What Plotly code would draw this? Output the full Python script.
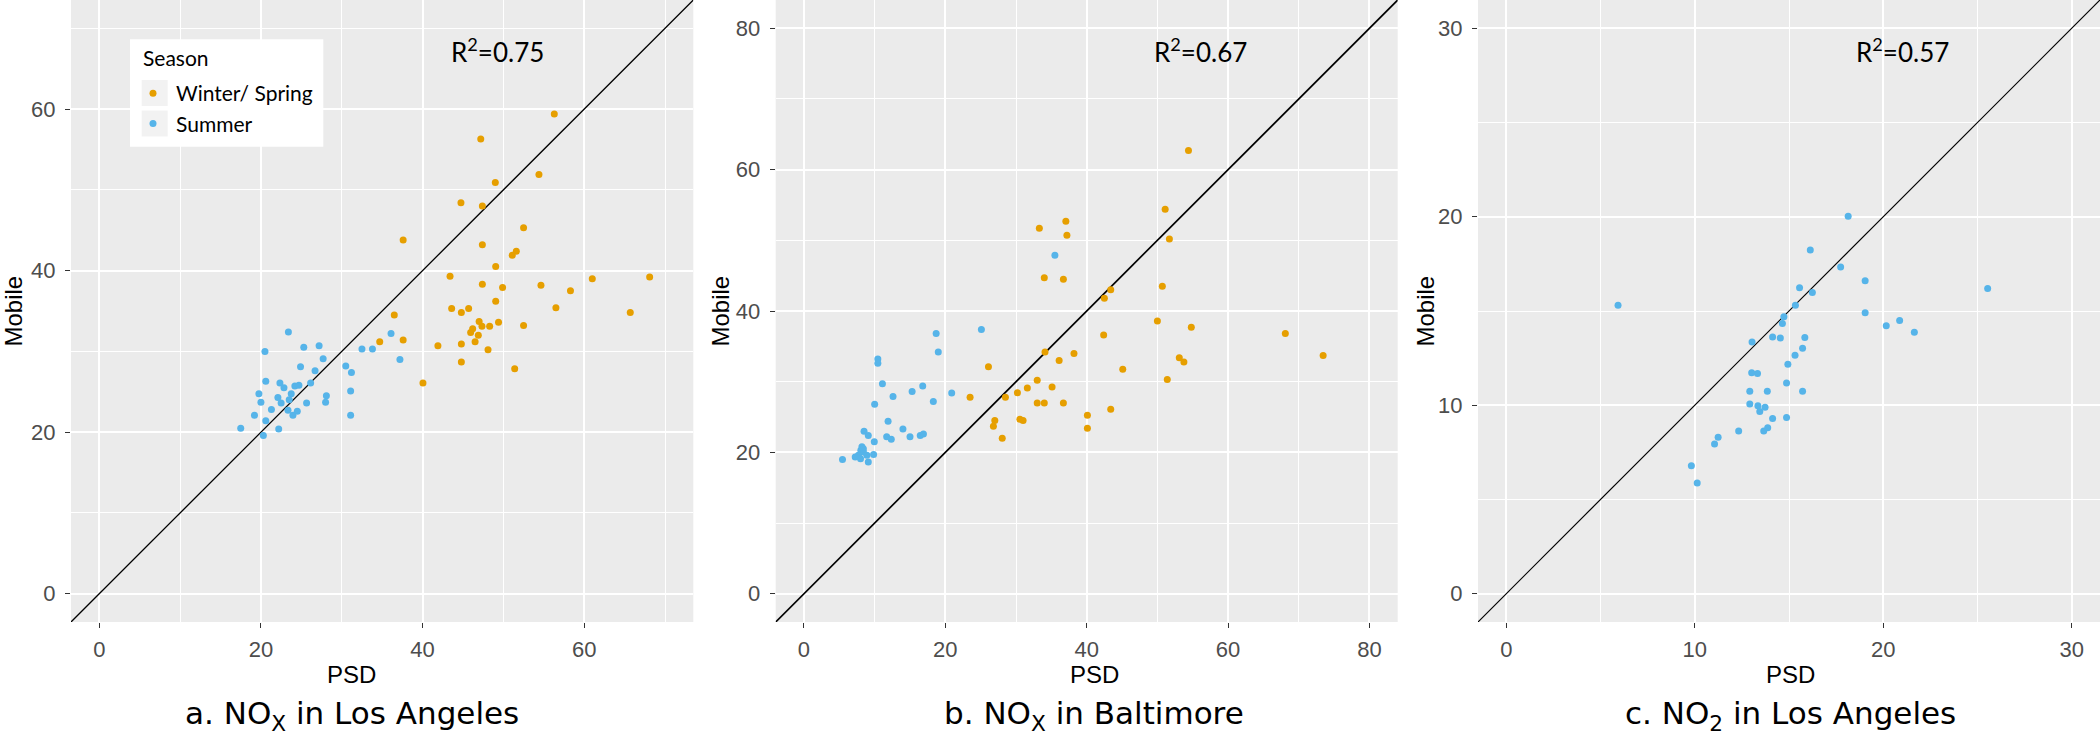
import plotly.graph_objects as go

# ---------------- data ----------------
SEASONS = ["Winter/ Spring", "Summer"]
COLORS = {"Winter/ Spring": "#E69F00", "Summer": "#56B4E9"}
LEGEND_TITLE = "Season"

# Panel a: NOx in Los Angeles
LA_NOX_WINTER_PSD = [56.3, 47.2, 54.4, 49.0, 44.75, 47.4, 52.5, 37.6, 47.4, 51.6, 51.1, 49.05,
                     43.4, 61.0, 68.1, 47.4, 54.65, 49.9, 58.3, 49.05, 56.5, 43.6, 45.7, 44.8,
                     65.7, 36.5, 47.0, 49.4, 46.2, 47.35, 48.3, 52.5, 45.95, 46.9, 37.6, 34.7,
                     41.9, 44.8, 46.5, 48.1, 44.8, 51.4, 40.05]
LA_NOX_WINTER_MOBILE = [59.4, 56.3, 51.9, 50.9, 48.4, 48.0, 45.3, 43.8, 43.2, 42.4, 41.9, 40.5,
                        39.3, 39.0, 39.2, 38.3, 38.2, 37.9, 37.5, 36.2, 35.4, 35.3, 35.3, 34.8,
                        34.8, 34.5, 33.7, 33.6, 32.8, 33.1, 33.1, 33.2, 32.35, 32.0, 31.4, 31.2,
                        30.7, 30.9, 31.2, 30.2, 28.7, 27.85, 26.1]
LA_NOX_SUMMER_PSD = [23.4, 20.5, 25.3, 27.2, 27.7, 24.9, 26.7, 30.5, 31.2, 32.5, 33.8, 36.1,
                     37.2, 20.6, 22.35, 22.85, 24.2, 24.7, 26.15, 19.75, 23.75, 28.1, 31.1, 20.0,
                     22.1, 22.5, 23.5, 25.65, 28.0, 21.3, 23.35, 24.5, 19.2, 31.1, 23.96, 20.6,
                     17.5, 20.3, 22.2]
LA_NOX_SUMMER_MOBILE = [32.4, 30.0, 30.5, 30.7, 29.1, 28.1, 27.6, 28.2, 27.4, 30.3, 30.3, 32.2,
                        29.0, 26.3, 26.1, 25.5, 25.7, 25.8, 26.1, 24.75, 24.75, 24.5, 25.1, 23.7,
                        24.3, 23.6, 24.0, 23.6, 23.7, 22.8, 22.7, 22.6, 22.1, 22.1, 22.1, 21.4,
                        20.5, 19.6, 20.4]

# Panel b: NOx in Baltimore
BAL_NOX_WINTER_PSD = [54.4, 51.1, 51.7, 37.05, 33.3, 37.2, 34.0, 36.7, 50.7, 43.4, 42.5, 50.0,
                      54.8, 68.1, 42.4, 73.45, 34.1, 38.2, 36.1, 45.1, 53.1, 53.75, 51.4, 33.0,
                      35.1, 31.6, 30.2, 28.5, 23.5, 26.1, 33.0, 34.0, 36.7, 40.1, 40.1, 43.4,
                      27.0, 26.8, 30.55, 31.0, 28.05]
BAL_NOX_WINTER_MOBILE = [62.7, 54.4, 50.2, 52.7, 51.7, 50.7, 44.7, 44.5, 43.5, 43.0, 41.8, 38.6,
                         37.7, 36.8, 36.6, 33.7, 34.2, 34.0, 33.0, 31.75, 33.4, 32.8, 30.3, 30.2,
                         29.25, 29.1, 28.45, 27.8, 27.8, 32.1, 27.0, 27.0, 27.0, 25.25, 23.4, 26.1,
                         24.5, 23.7, 24.7, 24.5, 22.0]
BAL_NOX_SUMMER_PSD = [35.5, 18.7, 25.1, 19.0, 10.45, 10.45, 11.1, 16.8, 15.3, 12.6, 20.9, 18.3,
                      10.0, 11.9, 14.0, 8.5, 9.1, 11.7, 12.35, 15.0, 16.45, 16.9, 9.95, 8.2,
                      8.05, 8.4, 7.7, 8.9, 9.85, 7.25, 8.0, 5.45, 9.1, 8.4]
BAL_NOX_SUMMER_MOBILE = [47.9, 36.8, 37.4, 34.2, 33.2, 32.6, 29.7, 29.4, 28.6, 27.9, 28.4, 27.2,
                         26.8, 24.4, 23.3, 23.0, 22.4, 22.2, 21.85, 22.2, 22.4, 22.6, 21.5, 20.8,
                         20.3, 20.05, 19.6, 19.6, 19.7, 19.35, 19.1, 19.0, 18.65, 20.5]

# Panel c: NO2 in Los Angeles (summer only)
LA_NO2_SUMMER_PSD = [5.93, 18.14, 16.13, 17.74, 19.04, 25.54, 15.56, 16.24, 15.34, 14.73, 14.65,
                     19.04, 20.16, 20.87, 21.65, 14.13, 14.54, 15.84, 13.04, 15.72, 15.32, 14.94,
                     13.02, 13.33, 14.87, 12.92, 13.85, 15.72, 12.92, 13.35, 13.73, 13.45, 14.87,
                     14.13, 12.33, 13.66, 13.87, 11.24, 11.05, 9.82, 10.13]
LA_NO2_SUMMER_MOBILE = [15.31, 20.03, 18.24, 17.33, 16.6, 16.2, 16.23, 15.98, 15.31, 14.69, 14.34,
                        14.91, 14.22, 14.49, 13.87, 13.62, 13.57, 13.6, 13.35, 13.03, 12.65, 12.18,
                        11.73, 11.68, 11.18, 10.74, 10.74, 10.74, 10.07, 9.97, 9.89, 9.67, 9.35,
                        9.3, 8.63, 8.63, 8.8, 8.3, 7.95, 6.79, 5.87]

R2_LABELS = ["0.75", "0.67", "0.57"]
CAPTIONS = ["a. NO<sub>X</sub> in Los Angeles",
            "b. NO<sub>X</sub> in Baltimore",
            "c. NO<sub>2</sub> in Los Angeles"]
X_TITLE = "PSD"
Y_TITLE = "Mobile"

# ---------------- layout geometry (pixels of the 2100x735 page) ----------------
W, H = 2100, 735
PANEL_X = [(71, 693.3), (775.7, 1397.7), (1478, 2100)]
PANEL_BOTTOM = 622
RANGES = [(-3.5, 73.5), (-4.0, 84.0), (-1.5, 31.5)]
MAJOR = [20, 20, 10]
MINOR = [10, 10, 5]
LINE_W = [1.3, 1.7, 1.2]
R2_X = [497, 1200, 1902]
TITLE_X = [351.5, 1094, 1790.5]
MOBILE_X = [12.5, 719.5, 1424.5]
CAPTION_BOTTOM = 738
LEGEND_BOX = (130, 39.3, 323.3, 146.7)   # left, top, right, bottom
LEGEND_ITEMS_TOP = 73
KEY_CENTERS = [93.0, 123.5]


def fx(px):
    return px / W


def fy(py):
    return 1 - py / H


fig = go.Figure()

panels = [
    [("Winter/ Spring", LA_NOX_WINTER_PSD, LA_NOX_WINTER_MOBILE),
     ("Summer", LA_NOX_SUMMER_PSD, LA_NOX_SUMMER_MOBILE)],
    [("Winter/ Spring", BAL_NOX_WINTER_PSD, BAL_NOX_WINTER_MOBILE),
     ("Summer", BAL_NOX_SUMMER_PSD, BAL_NOX_SUMMER_MOBILE)],
    [("Summer", LA_NO2_SUMMER_PSD, LA_NO2_SUMMER_MOBILE)],
]

tick_font = dict(family="Liberation Sans, Arial, sans-serif", size=22, color="#4D4D4D")

for i, series in enumerate(panels):
    xa = "x" if i == 0 else f"x{i+1}"
    ya = "y" if i == 0 else f"y{i+1}"
    lo, hi = RANGES[i]
    # 1:1 reference line spanning the axis range
    fig.add_trace(go.Scatter(x=[lo, hi], y=[lo, hi], mode="lines",
                             line=dict(color="black", width=LINE_W[i]),
                             showlegend=False, hoverinfo="skip", xaxis=xa, yaxis=ya))
    for name, xs, ys in series:
        fig.add_trace(go.Scatter(x=xs, y=ys, mode="markers", name=name,
                                 legendgroup=name, showlegend=(i == 0),
                                 marker=dict(color=COLORS[name], size=7, line=dict(width=0)),
                                 xaxis=xa, yaxis=ya))
    axis_common = dict(range=[lo, hi], tick0=0, dtick=MAJOR[i], showgrid=True,
                       gridcolor="white", gridwidth=1.5, zeroline=False, showline=False,
                       ticks="outside", ticklen=5, tickwidth=1.3, tickcolor="#333333",
                       tickfont=tick_font,
                       minor=dict(dtick=MINOR[i], tick0=0, showgrid=True,
                                  gridcolor="white", gridwidth=0.7, ticks=""))
    x0, x1 = PANEL_X[i]
    fig.update_layout(**{
        ("xaxis" if i == 0 else f"xaxis{i+1}"): dict(
            domain=[fx(x0), fx(x1)], anchor=ya, ticklabelstandoff=3, **axis_common),
        ("yaxis" if i == 0 else f"yaxis{i+1}"): dict(
            domain=[fy(PANEL_BOTTOM), 1], anchor=xa, ticklabelstandoff=5, **axis_common),
    })

    # R^2 label
    fig.add_annotation(x=fx(R2_X[i]), y=fy(51), xref="paper", yref="paper",
                       text=f"R<sup>2</sup>={R2_LABELS[i]}", showarrow=False,
                       xanchor="center", yanchor="middle",
                       font=dict(family="Lato, Liberation Sans, sans-serif", size=26, color="black"))
    # x title
    fig.add_annotation(x=fx(TITLE_X[i]), y=fy(674), xref="paper", yref="paper",
                       text=X_TITLE, showarrow=False, xanchor="center", yanchor="middle",
                       font=dict(family="Liberation Sans, Arial, sans-serif", size=24, color="black"))
    # y title
    fig.add_annotation(x=fx(MOBILE_X[i]), y=fy(311), xref="paper", yref="paper",
                       text=Y_TITLE, showarrow=False, textangle=-90,
                       xanchor="center", yanchor="middle",
                       font=dict(family="Liberation Sans, Arial, sans-serif", size=24, color="black"))
    # caption
    fig.add_annotation(x=fx(TITLE_X[i]), y=fy(CAPTION_BOTTOM), xref="paper", yref="paper",
                       text=CAPTIONS[i], showarrow=False, xanchor="center", yanchor="bottom",
                       font=dict(family="DejaVu Sans, Verdana, sans-serif", size=31, color="black"))

# legend box, key backgrounds and title (ggplot style)
lx0, ly0, lx1, ly1 = LEGEND_BOX
fig.add_shape(type="rect", xref="paper", yref="paper", layer="above",
              x0=fx(lx0), x1=fx(lx1), y0=fy(ly1), y1=fy(ly0),
              fillcolor="white", line=dict(width=0))
for c in KEY_CENTERS:
    fig.add_shape(type="rect", xref="paper", yref="paper", layer="above",
                  x0=fx(141.7), x1=fx(167.7), y0=fy(c + 13), y1=fy(c - 13),
                  fillcolor="#F2F2F2", line=dict(width=0))
fig.add_annotation(x=fx(141), y=fy(57), xref="paper", yref="paper", text=LEGEND_TITLE,
                   showarrow=False, xanchor="left", yanchor="middle",
                   font=dict(family="Lato, Liberation Sans, sans-serif", size=21, color="black"))

fig.update_layout(
    width=W, height=H,
    margin=dict(l=0, r=0, t=0, b=0),
    paper_bgcolor="white", plot_bgcolor="#EBEBEB",
    legend=dict(x=fx(lx0), y=fy(LEGEND_ITEMS_TOP), xanchor="left", yanchor="top",
                bgcolor="rgba(0,0,0,0)", borderwidth=0,
                font=dict(family="Lato, Liberation Sans, sans-serif", size=21, color="black"),
                itemwidth=36, tracegroupgap=0),
)

fig.write_html("out.html", config={"displayModeBar": False},
               post_script="document.body.style.margin='0';document.body.style.overflow='hidden';")
